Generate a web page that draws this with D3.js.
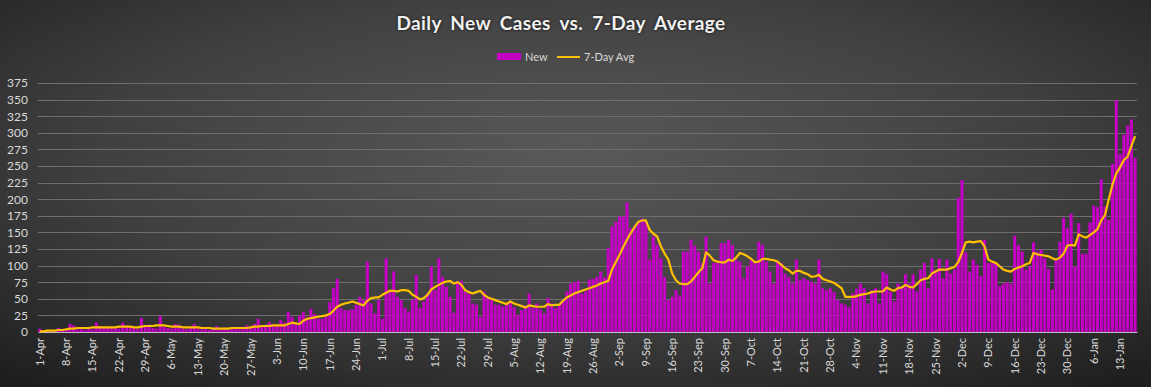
<!DOCTYPE html>
<html>
<head>
<meta charset="utf-8">
<title>Daily New Cases vs. 7-Day Average</title>
<script src="https://cdn.jsdelivr.net/npm/d3@7/dist/d3.min.js"></script>
<style>
  html, body { margin: 0; padding: 0; background: #262626; }
  svg { display: block; }
  .title { font-family: Lato, "Open Sans", sans-serif; font-weight: bold; font-size: 19px; fill: #f2f2f2; word-spacing: 4px; letter-spacing: 0.4px; text-shadow: 0 0 3px rgba(0,0,0,0.8); }
  .lbl { font-family: Lato, "Open Sans", sans-serif; fill: #d9d9d9; }
</style>
</head>
<body>
<script>
// daily new cases, 1-Apr .. 17-Jan
var newCases = [
  5, 2, 1, 2, 3, 6, 2, 3, 12, 10, 4, 5, 3, 6,
  4, 14, 9, 6, 7, 8, 6, 5, 14, 10, 7, 6, 5, 21,
  8, 11, 6, 5, 24, 8, 6, 5, 12, 11, 5, 4, 6, 12,
  5, 4, 6, 3, 5, 9, 4, 6, 3, 5, 7, 4, 8, 10,
  8, 12, 20, 9, 11, 15, 12, 10, 18, 14, 30, 23, 12, 25,
  30, 22, 35, 27, 20, 20, 25, 45, 66, 80, 36, 33, 33, 34,
  41, 53, 48, 106, 43, 28, 48, 20, 111, 63, 91, 53, 48, 36,
  31, 48, 86, 36, 46, 58, 99, 63, 111, 83, 68, 53, 29, 76,
  77, 61, 57, 43, 41, 23, 61, 53, 48, 41, 41, 38, 43, 47,
  37, 26, 33, 40, 58, 36, 43, 34, 28, 51, 43, 36, 41, 48,
  61, 73, 75, 77, 58, 61, 79, 80, 83, 91, 82, 126, 159, 166,
  174, 174, 195, 156, 159, 166, 171, 166, 109, 144, 131, 111, 83, 48,
  53, 63, 55, 121, 121, 139, 130, 121, 104, 144, 73, 104, 104, 134,
  134, 139, 131, 109, 106, 81, 99, 109, 104, 136, 131, 106, 91, 73,
  106, 104, 88, 83, 73, 109, 78, 81, 78, 76, 73, 109, 66, 63,
  66, 60, 48, 43, 41, 37, 58, 65, 73, 66, 43, 63, 66, 43,
  91, 87, 61, 46, 73, 68, 87, 73, 87, 61, 94, 104, 66, 111,
  94, 110, 81, 109, 88, 94, 202, 229, 120, 91, 109, 101, 84, 139,
  104, 104, 104, 69, 73, 75, 73, 145, 131, 121, 94, 99, 135, 121,
  124, 111, 95, 64, 111, 136, 172, 156, 178, 99, 164, 118, 118, 165,
  190, 188, 230, 189, 169, 253, 349, 268, 297, 311, 320, 262
];

// 7-day average
var avg7 = [
  1, 1, 2, 2, 2, 3, 3, 4, 5, 5, 6, 6, 6, 6,
  7, 7, 7, 7, 7, 7, 7, 8, 8, 8, 8, 7, 7, 8,
  9, 9, 9, 10, 10, 10, 9, 8, 8, 8, 7, 7, 7, 7,
  7, 6, 6, 6, 5, 5, 5, 5, 5, 6, 6, 6, 6, 6,
  7, 8, 8, 9, 9, 9, 10, 10, 10, 10, 12, 14, 13, 12,
  17, 20, 21, 22, 23, 24, 25, 27, 32, 38, 41, 43, 44, 46,
  44, 42, 40, 47, 51, 52, 52, 56, 59, 62, 62, 61, 63, 63,
  62, 56, 53, 49, 51, 56, 64, 68, 71, 74, 76, 77, 73, 75,
  71, 63, 60, 58, 60, 62, 56, 52, 50, 48, 46, 44, 42, 46,
  43, 41, 39, 37, 40, 39, 38, 38, 38, 42, 40, 41, 41, 47,
  52, 55, 58, 60, 62, 64, 66, 68, 70, 73, 75, 77, 94, 105,
  116, 128, 139, 149, 158, 166, 168, 168, 154, 148, 144, 129, 118, 109,
  88, 78, 73, 72, 72, 76, 83, 90, 96, 120, 115, 108, 106, 105,
  105, 109, 107, 112, 119, 117, 114, 110, 105, 106, 110, 110, 109, 108,
  106, 101, 96, 93, 88, 92, 92, 89, 87, 83, 84, 86, 80, 78,
  76, 74, 70, 66, 53, 53, 53, 54, 56, 57, 58, 60, 61, 61,
  61, 67, 64, 62, 66, 67, 71, 68, 67, 72, 78, 80, 81, 88,
  91, 94, 94, 94, 96, 98, 105, 119, 135, 136, 135, 136, 137, 129,
  109, 106, 104, 99, 94, 92, 91, 95, 97, 99, 102, 104, 119, 117,
  116, 115, 114, 111, 109, 112, 118, 130, 131, 130, 147, 144, 142, 146,
  150, 155, 168, 176, 200, 222, 239, 248, 259, 264, 280, 295
];

var tickLabels = ["1-Apr", "8-Apr", "15-Apr", "22-Apr", "29-Apr", "6-May", "13-May", "20-May", "27-May",
  "3-Jun", "10-Jun", "17-Jun", "24-Jun", "1-Jul", "8-Jul", "15-Jul", "22-Jul", "29-Jul",
  "5-Aug", "12-Aug", "19-Aug", "26-Aug", "2-Sep", "9-Sep", "16-Sep", "23-Sep", "30-Sep",
  "7-Oct", "14-Oct", "21-Oct", "28-Oct", "4-Nov", "11-Nov", "18-Nov", "25-Nov",
  "2-Dec", "9-Dec", "16-Dec", "23-Dec", "30-Dec", "6-Jan", "13-Jan"];
var yTicks = [0, 25, 50, 75, 100, 125, 150, 175, 200, 225, 250, 275, 300, 325, 350, 375];

var fmt = d3.timeFormat("%-d-%b");
var days = d3.timeDay.range(new Date(2020, 3, 1), new Date(2021, 0, 18)).map(fmt);

var W = 1151, H = 387;
var plotL = 38, plotR = 1137, plotT = 83, plotB = 332;

var svg = d3.select("body").append("svg").attr("width", W).attr("height", H);

var defs = svg.append("defs");
var grad = defs.append("radialGradient").attr("id", "bg")
    .attr("cx", "50%").attr("cy", "40%").attr("r", "75%");
grad.append("stop").attr("offset", "0%").attr("stop-color", "#595959");
grad.append("stop").attr("offset", "55%").attr("stop-color", "#404040");
grad.append("stop").attr("offset", "100%").attr("stop-color", "#1f1f1f");
svg.append("rect").attr("width", W).attr("height", H).attr("fill", "url(#bg)");

var x = d3.scaleBand().domain(days).range([plotL, plotR]).paddingInner(0.18).paddingOuter(0.09);
var y = d3.scaleLinear().domain([0, 375]).range([plotB, plotT]);

// gridlines
svg.append("g").selectAll("line").data(yTicks.slice(1)).enter().append("line")
    .attr("x1", plotL).attr("x2", plotR)
    .attr("y1", function (d) { return Math.round(y(d)) + 0.5; })
    .attr("y2", function (d) { return Math.round(y(d)) + 0.5; })
    .attr("stroke", "#6e6e6e").attr("stroke-width", 1);

// y labels
var yAxis = svg.append("g").attr("transform", "translate(" + plotL + ",0)")
    .call(d3.axisLeft(y).tickValues(yTicks).tickSize(0).tickPadding(10));
yAxis.select(".domain").remove();
yAxis.selectAll("text").attr("class", "lbl").attr("font-size", 12).attr("fill", "#d9d9d9");

// bars
svg.append("g").selectAll("rect").data(newCases).enter().append("rect")
    .attr("x", function (d, i) { return x(days[i]); })
    .attr("y", function (d) { return y(d); })
    .attr("width", x.bandwidth())
    .attr("height", function (d) { return y(0) - y(d); })
    .attr("fill", "#c400c4");

// x axis
var xAxis = svg.append("g").attr("transform", "translate(0," + plotB + ")")
    .call(d3.axisBottom(x).tickValues(tickLabels).tickSize(0).tickPadding(6));
xAxis.select(".domain").attr("stroke", "#bfbfbf").attr("stroke-width", 1.2);
xAxis.selectAll("text").attr("class", "lbl").attr("font-size", 11).attr("fill", "#d9d9d9")
    .attr("transform", "rotate(-90)")
    .attr("text-anchor", "end")
    .attr("dy", "0.35em")
    .attr("x", -6).attr("y", 0);

// 7-day avg line
var line = d3.line()
    .x(function (d, i) { return x(days[i]) + x.bandwidth() / 2; })
    .y(function (d) { return y(d); });
svg.append("path").datum(avg7)
    .attr("d", line)
    .attr("fill", "none")
    .attr("stroke", "#ffc000")
    .attr("stroke-width", 2.2)
    .attr("stroke-linejoin", "round");

// title
svg.append("text").attr("class", "title")
    .attr("x", 561).attr("y", 30).attr("text-anchor", "middle")
    .text("Daily New Cases vs. 7-Day Average");

// legend
var lg = svg.append("g");
lg.append("rect").attr("x", 497).attr("y", 53).attr("width", 24).attr("height", 7).attr("fill", "#c400c4");
lg.append("text").attr("class", "lbl").attr("x", 525).attr("y", 61).attr("font-size", 11).text("New");
lg.append("line").attr("x1", 557).attr("x2", 580).attr("y1", 57).attr("y2", 57)
    .attr("stroke", "#ffc000").attr("stroke-width", 2);
lg.append("text").attr("class", "lbl").attr("x", 584).attr("y", 61).attr("font-size", 11).text("7-Day Avg");
</script>
</body>
</html>
